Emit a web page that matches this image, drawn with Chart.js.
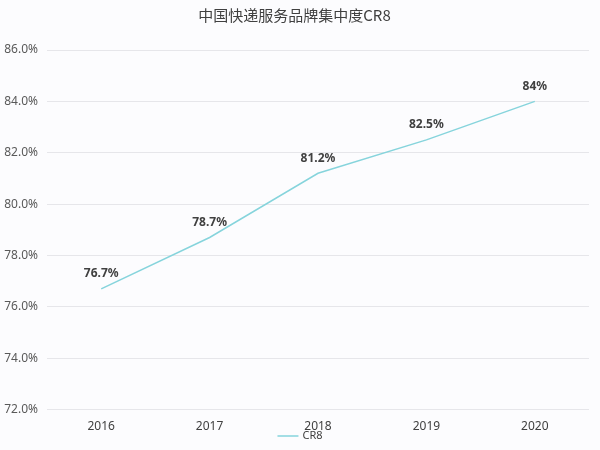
<!DOCTYPE html>
<html>
<head>
<meta charset="utf-8">
<script src="https://cdn.jsdelivr.net/npm/chart.js@4/dist/chart.umd.min.js"></script>
<style>
html,body{margin:0;padding:0;background:#fcfcfe;}
#wrap{width:600px;height:450px;}
</style>
</head>
<body>
<div id="wrap"><canvas id="c" width="600" height="450"></canvas></div>
<script>
const categories = ['2016', '2017', '2018', '2019', '2020'];
const cr8Values = [76.7, 78.7, 81.2, 82.5, 84];
const valueLabels = ['76.7%', '78.7%', '81.2%', '82.5%', '84%'];
const seriesName = 'CR8';
const titleText = '中国快递服务品牌集中度CR8';
const lineColor = '#86d4dc';

const bgPlugin = {
  id: 'bg',
  beforeDraw(chart) {
    const ctx = chart.ctx;
    ctx.save();
    ctx.fillStyle = '#fcfcfe';
    ctx.fillRect(0, 0, chart.width, chart.height);
    ctx.restore();
  }
};

const labelPlugin = {
  id: 'pointLabels',
  afterDatasetsDraw(chart) {
    const ctx = chart.ctx;
    const meta = chart.getDatasetMeta(0);
    ctx.save();
    ctx.font = 'bold 12px "Noto Sans", "DejaVu Sans", sans-serif';
    ctx.fillStyle = '#404040';
    ctx.textAlign = 'center';
    ctx.textBaseline = 'middle';
    meta.data.forEach((pt, i) => {
      ctx.fillText(valueLabels[i], pt.x, pt.y - 15);
    });
    ctx.restore();
  }
};

// legend drawn close under the axis labels (as in the original)
const legendPlugin = {
  id: 'miniLegend',
  afterDraw(chart) {
    const ctx = chart.ctx;
    const ds = chart.data.datasets[0];
    const y = 436;
    ctx.save();
    ctx.font = '11px "Noto Sans", sans-serif';
    const tw = ctx.measureText(ds.label).width;
    const lineW = 21, gap = 4;
    const total = lineW + gap + tw;
    const cx = chart.width / 2;
    const x0 = cx - total / 2;
    ctx.strokeStyle = ds.borderColor;
    ctx.lineWidth = 1.5;
    ctx.beginPath();
    ctx.moveTo(x0, y);
    ctx.lineTo(x0 + lineW, y);
    ctx.stroke();
    ctx.fillStyle = '#404040';
    ctx.textAlign = 'left';
    ctx.textBaseline = 'middle';
    ctx.fillText(ds.label, x0 + lineW + gap, y);
    ctx.restore();
  }
};

new Chart(document.getElementById('c'), {
  type: 'line',
  data: {
    labels: categories,
    datasets: [{
      label: seriesName,
      data: cr8Values,
      borderColor: lineColor,
      backgroundColor: lineColor,
      borderWidth: 1.5,
      pointRadius: 0,
      tension: 0,
      fill: false
    }]
  },
  options: {
    responsive: false,
    animation: false,
    layout: { padding: { left: 0, right: 11, top: 0, bottom: 6 } },
    plugins: {
      title: {
        display: true,
        text: titleText,
        color: '#404040',
        font: { family: '"Noto Sans CJK SC", sans-serif', size: 15, weight: 'normal' },
        padding: { top: 6, bottom: 26 }
      },
      legend: { display: false },
      tooltip: { enabled: false }
    },
    scales: {
      x: {
        offset: true,
        grid: { display: false, drawTicks: false },
        border: { display: false },
        ticks: {
          color: '#404040',
          padding: 10,
          font: { family: '"Noto Sans", sans-serif', size: 12 }
        }
      },
      y: {
        min: 72,
        max: 86,
        grid: { color: '#e6e6ea', drawTicks: false },
        border: { display: false },
        ticks: {
          stepSize: 2,
          color: '#595959',
          padding: 9,
          font: { family: '"Noto Sans", sans-serif', size: 12 },
          callback: (v) => v.toFixed(1) + '%'
        },
        afterFit(scale) { scale.width = 47; }
      }
    }
  },
  plugins: [bgPlugin, labelPlugin, legendPlugin]
});
</script>
</body>
</html>
